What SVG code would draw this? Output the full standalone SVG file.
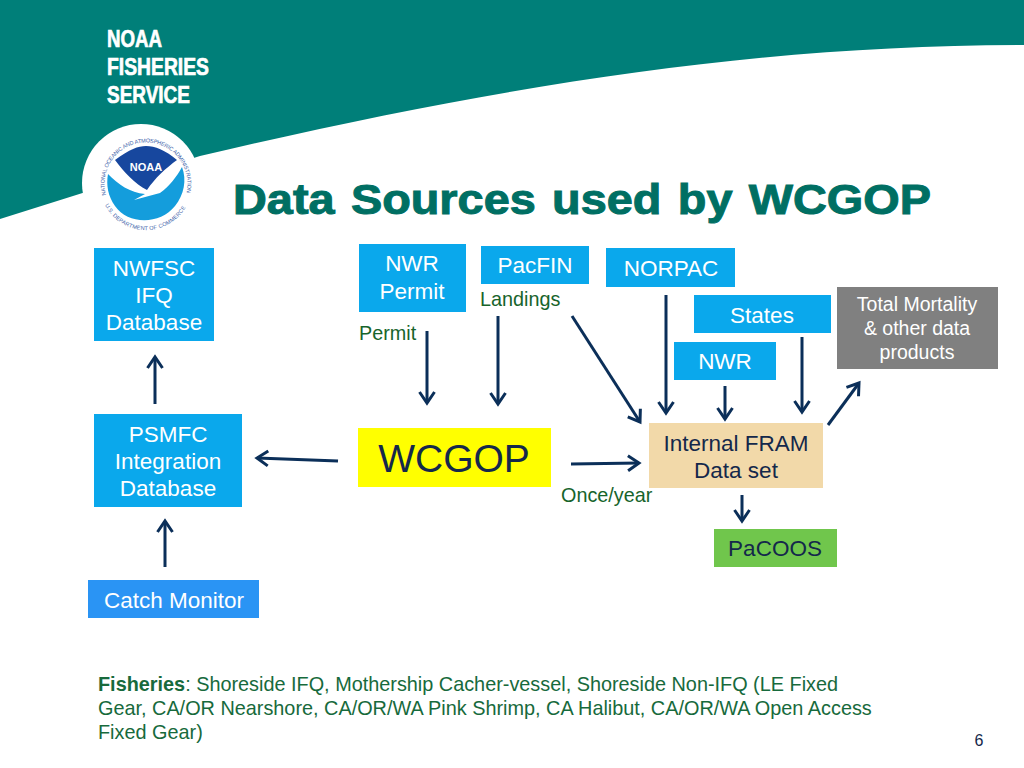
<svg xmlns="http://www.w3.org/2000/svg" width="1024" height="768" viewBox="0 0 1024 768">
<defs>
<marker id="a" markerUnits="userSpaceOnUse" markerWidth="20" markerHeight="20" refX="14" refY="10" orient="auto" viewBox="0 0 20 20"><path d="M3 2.500 L14 10 L3 17.500" fill="none" stroke="#0b2f59" stroke-width="3"/></marker>
</defs>
<style>
text{font-family:"Liberation Sans",Arial,sans-serif}
.n{font-size:22.500px;text-anchor:middle;fill:#fff}
.d{font-size:22.500px;text-anchor:middle;fill:#14284b}
.g{font-size:19.800px;fill:#17642b}
.c line{stroke:#0b2f59;stroke-width:3;fill:none;marker-end:url(#a)}
.f{font-size:19.850px;fill:#176a3c}
</style>
<rect width="1024" height="768" fill="#fff"/>
<path id="banner" d="M0 0H1024V45C760 45 500 85 200 156L0 219Z" fill="#007f79"/>
<g id="logo-text" font-weight="700" fill="#fff" stroke="#fff" stroke-width="0.700" font-size="24">
<text x="107" y="47" textLength="55" lengthAdjust="spacingAndGlyphs">NOAA</text>
<text x="107" y="75" textLength="102" lengthAdjust="spacingAndGlyphs">FISHERIES</text>
<text x="107" y="103" textLength="83" lengthAdjust="spacingAndGlyphs">SERVICE</text>
</g>
<g id="seal">
<circle cx="141" cy="183" r="59" fill="#fff"/>
<path d="M115 160C130 149 138 146 146 146C155 146 165 150 177 160C166 168 155 178 147 190C135 184 124 172 115 160Z" fill="#17479e"/>
<path d="M108 174C118 184 130 193 145 194L134 200L160 193C170 186 177 176 182 167C187 180 184 195 175 206C160 225 128 225 115 206C108 196 106 185 108 174Z" fill="#149ddc"/>
<text x="146" y="171" font-size="11" font-weight="700" text-anchor="middle" fill="#fff">NOAA</text>
<path id="arc1" d="M106 195A41.500 41.500 0 1 1 186 195" fill="none"/>
<path id="arc2" d="M105 205A46 46 0 0 0 187 205" fill="none"/>
<text font-size="5.500" fill="#3a5ea8"><textPath href="#arc1" textLength="150">NATIONAL OCEANIC AND ATMOSPHERIC ADMINISTRATION</textPath></text>
<text font-size="5.500" fill="#3a5ea8"><textPath href="#arc2" textLength="98">U.S. DEPARTMENT OF COMMERCE</textPath></text>
</g>
<text id="title" x="233" y="214" font-size="42" font-weight="700" fill="#006f63" stroke="#006f63" stroke-width="1" word-spacing="3" textLength="698" lengthAdjust="spacingAndGlyphs">Data Sources used by WCGOP</text>

<g id="connectors" class="c">
<line x1="155" y1="404" x2="155" y2="357"/>
<line x1="165" y1="567" x2="165" y2="521"/>
<line x1="338" y1="461" x2="257" y2="458"/>
<line x1="427" y1="331" x2="427" y2="403"/>
<line x1="498" y1="316" x2="498" y2="404"/>
<line x1="572" y1="316" x2="640" y2="422"/>
<line x1="666" y1="295" x2="666" y2="413"/>
<line x1="725" y1="386" x2="725" y2="419"/>
<line x1="802" y1="337" x2="802" y2="412"/>
<line x1="571" y1="464" x2="639" y2="463"/>
<line x1="828" y1="425" x2="859" y2="383"/>
<line x1="742" y1="495" x2="742" y2="521"/>
</g>

<g id="nwfsc"><rect x="94" y="248" width="120" height="93" fill="#0aa8ec"/><text class="n" x="154" y="276">NWFSC</text><text class="n" x="154" y="303">IFQ</text><text class="n" x="154" y="330">Database</text></g>
<g id="psmfc"><rect x="94" y="414" width="148" height="93" fill="#0aa8ec"/><text class="n" x="168" y="442">PSMFC</text><text class="n" x="168" y="469">Integration</text><text class="n" x="168" y="496">Database</text></g>
<g id="catch"><rect x="88" y="580" width="171" height="38" fill="#2a94f4"/><text class="n" x="174" y="608">Catch Monitor</text></g>
<g id="nwr-permit"><rect x="359" y="244" width="107" height="68" fill="#0aa8ec"/><text class="n" x="412" y="271">NWR</text><text class="n" x="412" y="299">Permit</text></g>
<g id="pacfin"><rect x="481" y="246" width="108" height="38" fill="#0aa8ec"/><text class="n" x="535" y="273">PacFIN</text></g>
<g id="norpac"><rect x="606" y="248" width="129" height="39" fill="#0aa8ec"/><text class="n" x="671" y="276">NORPAC</text></g>
<g id="states"><rect x="694" y="295" width="137" height="38" fill="#0aa8ec"/><text class="n" x="762" y="323">States</text></g>
<g id="nwr"><rect x="674" y="342" width="102" height="38" fill="#0aa8ec"/><text class="n" x="725" y="369">NWR</text></g>
<g id="total"><rect x="837" y="287" width="161" height="82" fill="#808080"/><g font-size="19.500" text-anchor="middle" fill="#fff"><text x="917" y="311">Total Mortality</text><text x="917" y="335">&amp; other data</text><text x="917" y="359">products</text></g></g>
<g id="wcgop"><rect x="358" y="428" width="193" height="59" fill="#ffff00"/><text x="454" y="472" font-size="39" text-anchor="middle" fill="#14284b">WCGOP</text></g>
<g id="fram"><rect x="649" y="423" width="174" height="65" fill="#f2d9a9"/><text class="d" x="736" y="451">Internal FRAM</text><text class="d" x="736" y="478">Data set</text></g>
<g id="pacoos"><rect x="714" y="529" width="123" height="38" fill="#70c64c"/><text class="d" x="775" y="556">PaCOOS</text></g>

<text class="g" x="359" y="340">Permit</text>
<text class="g" x="480" y="306">Landings</text>
<text class="g" x="561" y="502">Once/year</text>
<g id="note" class="f">
<text x="98" y="691"><tspan font-weight="700">Fisheries</tspan>: Shoreside IFQ, Mothership Cacher-vessel, Shoreside Non-IFQ (LE Fixed</text>
<text x="98" y="715">Gear, CA/OR Nearshore, CA/OR/WA Pink Shrimp, CA Halibut, CA/OR/WA Open Access</text>
<text x="98" y="739">Fixed Gear)</text>
</g>
<text id="page" x="979" y="746" font-size="16" text-anchor="middle" fill="#14284b">6</text>
</svg>
